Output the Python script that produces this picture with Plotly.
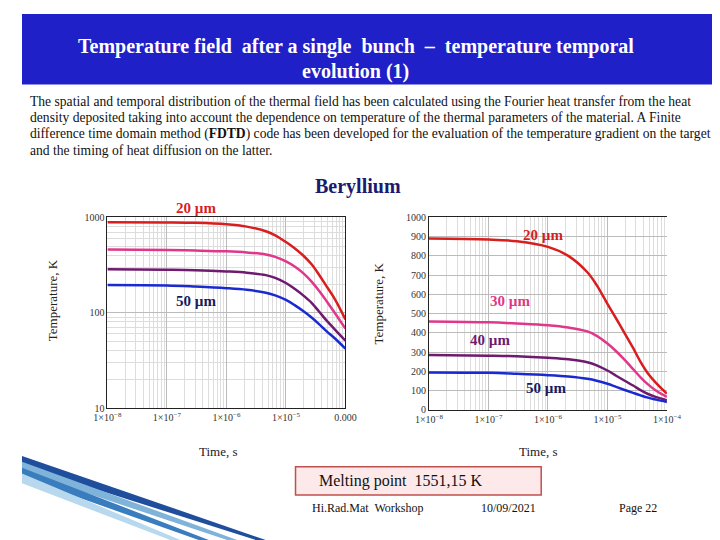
import plotly.graph_objects as go

times = [1e-8, 1e-7, 3e-7, 1e-6, 2.2e-6, 4.6e-6, 6.6e-6, 1e-5, 1.4e-5, 1.95e-5, 2.7e-5, 3.6e-5, 4.8e-5, 6.6e-5, 1e-4]
t20 = [890, 885, 876, 847, 800, 715, 648, 551, 475, 398, 322, 250, 190, 140, 85]
t30 = [460, 455, 449, 440, 428, 408, 385, 345, 305, 260, 212, 170, 133, 100, 68]
t40 = [285, 282, 279, 271, 263, 248, 232, 205, 178, 152, 127, 103, 83, 67, 51]
t50 = [195, 193, 188, 181, 174, 162, 152, 136, 120, 104, 89, 76, 64, 54, 42]
names = ["20 µm", "30 µm", "40 µm", "50 µm"]
colors = ["#d81e1e", "#e0378a", "#6e1a6e", "#1a2ad0"]
xticks = [1e-8, 1e-7, 1e-6, 1e-5, 1e-4]
left_xlabels = ["1×10<sup>−8</sup>", "1×10<sup>−7</sup>", "1×10<sup>−6</sup>", "1×10<sup>−5</sup>", "0.000"]
right_xlabels = ["1×10<sup>−8</sup>", "1×10<sup>−7</sup>", "1×10<sup>−6</sup>", "1×10<sup>−5</sup>", "1×10<sup>−4</sup>"]

W, H = 720, 540
def px(x): return x / W
def py(y): return 1 - y / H

fig = go.Figure()
for vals, n, c in zip([t20, t30, t40, t50], names, colors):
    for xa, ya in [("x", "y"), ("x2", "y2")]:
        fig.add_trace(go.Scatter(x=times, y=vals, name=n, mode="lines", xaxis=xa, yaxis=ya,
                                 line=dict(color=c, width=2.5, shape="spline", smoothing=1),
                                 showlegend=False))

serif = "Times New Roman, Liberation Serif, serif"
tf = dict(family=serif, size=10, color="#333")
common = dict(type="log", showgrid=True, gridcolor="#bbb", linecolor="#222", showline=True,
              ticks="", tickfont=tf, zeroline=False, mirror=True)
fig.update_layout(
    width=W, height=H, margin=dict(l=0, r=0, t=0, b=0),
    paper_bgcolor="white", plot_bgcolor="white",
    xaxis=dict(**common, domain=[px(89), px(337)], range=[-8, -4], tickvals=xticks, ticktext=left_xlabels,
               anchor="y", minor=dict(showgrid=True, gridcolor="#ddd", dtick="D1")),
    yaxis=dict(**common, domain=[py(403), py(208)], range=[1, 3], tickvals=[10, 100, 1000],
               ticktext=["10", "100", "1000"], anchor="x",
               minor=dict(showgrid=True, gridcolor="#ddd", dtick="D1")),
    xaxis2=dict(**common, domain=[px(424), px(672)], range=[-8, -4], tickvals=xticks, ticktext=right_xlabels,
                anchor="y2", minor=dict(showgrid=True, gridcolor="#ddd", dtick="D1")),
    yaxis2=dict(showgrid=True, gridcolor="#bbb", linecolor="#222", showline=True, ticks="", tickfont=tf,
                zeroline=False, domain=[py(405), py(208)], range=[0, 1000], dtick=100, anchor="x2"),
)

shapes = [dict(type="rect", xref="paper", yref="paper", x0=0, x1=1, y0=py(72), y1=1,
               fillcolor="#2020c8", line_width=0, layer="below"),
          dict(type="rect", xref="paper", yref="paper", x0=px(285), x1=px(541), y0=py(492), y1=py(463),
               fillcolor="#fde9e9", line=dict(color="#c0504d", width=1.5))]
for i, (c, w) in enumerate([("#1f4e9c", 3), ("#7fb3d9", 8), ("#3a7dbf", 2), ("#b8d8ee", 6)]):
    shapes.append(dict(type="path", xref="paper", yref="paper",
                       path=f"M 0 {py(452+i*6)} L {px(260-i*30)} {py(540)} L {px(250-i*30)} {py(540)} L 0 {py(462+i*6)} Z",
                       fillcolor=c, line_width=0))
fig.update_layout(shapes=shapes)

ann = [
    dict(x=px(348), y=py(33), text="<b>Temperature field  after a single  bunch  –  temperature temporal</b>", font=dict(family=serif, size=20, color="white")),
    dict(x=px(348), y=py(59), text="<b>evolution (1)</b>", font=dict(family=serif, size=20, color="white")),
    dict(x=px(350), y=py(176), text="<b>Beryllium</b>", font=dict(family=serif, size=20, color="#1a1a6e")),
    dict(x=px(181), y=py(198), text="<b>20 µm</b>", font=dict(family=serif, size=15, color="#d81e1e")),
    dict(x=px(181), y=py(294), text="<b>50 µm</b>", font=dict(family=serif, size=15, color="#1a1a5e")),
    dict(x=px(543), y=py(226), text="<b>20 µm</b>", font=dict(family=serif, size=15, color="#d81e1e")),
    dict(x=px(509), y=py(294), text="<b>30 µm</b>", font=dict(family=serif, size=15, color="#e0378a")),
    dict(x=px(488), y=py(333), text="<b>40 µm</b>", font=dict(family=serif, size=15, color="#6e1a6e")),
    dict(x=px(546), y=py(383), text="<b>50 µm</b>", font=dict(family=serif, size=15, color="#1a1a5e")),
    dict(x=px(32), y=py(293), text="Temperature, K", textangle=-90, font=dict(family=serif, size=13, color="#222")),
    dict(x=px(371), y=py(296), text="Temperature, K", textangle=-90, font=dict(family=serif, size=13, color="#222")),
    dict(x=px(205), y=py(447), text="Time, s", font=dict(family=serif, size=13, color="#222")),
    dict(x=px(538), y=py(447), text="Time, s", font=dict(family=serif, size=13, color="#222")),
    dict(x=px(395), y=py(478), text="Melting point  1551,15 K", font=dict(family=serif, size=16, color="#111")),
    dict(x=px(360), y=py(505), text="Hi.Rad.Mat  Workshop", font=dict(family=serif, size=12, color="#111")),
    dict(x=px(507), y=py(505), text="10/09/2021", font=dict(family=serif, size=12, color="#111")),
    dict(x=px(642), y=py(505), text="Page 22", font=dict(family=serif, size=12, color="#111")),
]
para = ["The spatial and temporal distribution of the thermal field has been calculated using the Fourier heat transfer from the heat",
        "density deposited taking into account the dependence on temperature of the thermal parameters of the material. A Finite",
        "difference time domain method (<b>FDTD</b>) code has been developed for the evaluation of the temperature gradient on the target",
        "and the timing of heat diffusion on the latter."]
for i, line in enumerate(para):
    ann.append(dict(x=px(6), y=py(89 + i * 17), xanchor="left", text=line, font=dict(family=serif, size=13.6, color="#111")))
for a in ann:
    a.setdefault("xanchor", "center")
    a.update(xref="paper", yref="paper", showarrow=False, yanchor="middle")
fig.update_layout(annotations=ann)
fig.write_html("out.html")
